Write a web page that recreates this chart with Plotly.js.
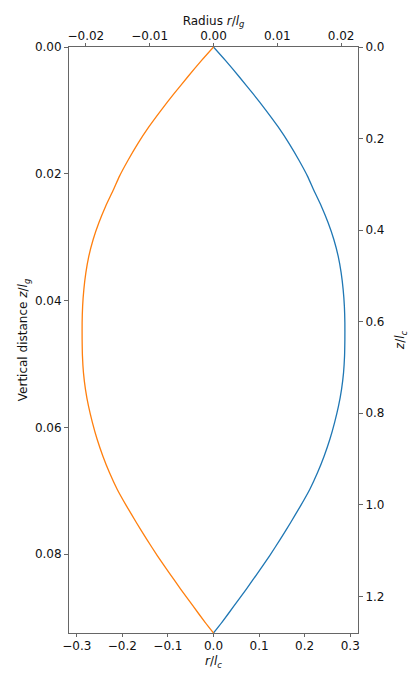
<!DOCTYPE html>
<html>
<head>
<meta charset="utf-8">
<script src="https://cdn.plot.ly/plotly-3.0.1.min.js"></script>
<style>
html,body{margin:0;padding:0;background:#fff;}
#chart{width:416px;height:680px;}
</style>
</head>
<body>
<div id="chart"></div>
<script>
// Vertical distance z/l_g (left axis units)
const zValues = [0, 0.00211, 0.00473, 0.00736, 0.00999, 0.01261, 0.01524, 0.01787, 0.02049, 0.02249,
                 0.02512, 0.02773, 0.03037, 0.03300, 0.03561, 0.03824, 0.04088, 0.04349, 0.04612,
                 0.04876, 0.05137, 0.05400, 0.05663, 0.05925, 0.06188, 0.06451, 0.06713, 0.06976,
                 0.07239, 0.07501, 0.07764, 0.08027, 0.08289, 0.08552, 0.08815, 0.09077, 0.09245];
// Radius r/l_c (bottom axis units), right branch (blue)
const rRight = [0, 0.0261, 0.0568, 0.0866, 0.1151, 0.1419, 0.1660, 0.1875, 0.2070, 0.2193,
                0.2366, 0.2515, 0.2640, 0.2735, 0.2800, 0.2844, 0.2871, 0.2882, 0.2882,
                0.2875, 0.2853, 0.2809, 0.2743, 0.2656, 0.2553, 0.2428, 0.2283, 0.2114,
                0.1910, 0.1693, 0.1467, 0.1230, 0.0980, 0.0721, 0.0454, 0.0184, 0];
// Radius r/l_c, left branch (orange)
const rLeft = [0, -0.0261, -0.0568, -0.0866, -0.1151, -0.1419, -0.1660, -0.1875, -0.2070, -0.2193,
               -0.2366, -0.2515, -0.2640, -0.2735, -0.2800, -0.2844, -0.2871, -0.2882, -0.2882,
               -0.2875, -0.2853, -0.2809, -0.2743, -0.2656, -0.2553, -0.2428, -0.2283, -0.2114,
               -0.1910, -0.1693, -0.1467, -0.1230, -0.0980, -0.0721, -0.0454, -0.0184, 0];

const bottomTicks = [-0.3, -0.2, -0.1, 0.0, 0.1, 0.2, 0.3];
const topTicks = [-0.02, -0.01, 0.00, 0.01, 0.02];
const leftTicks = [0.00, 0.02, 0.04, 0.06, 0.08];
const rightTicks = [0.0, 0.2, 0.4, 0.6, 0.8, 1.0, 1.2];

const font = {family: 'DejaVu Sans, sans-serif', size: 12, color: '#111'};
const axisCommon = {
  showline: true, linecolor: '#666', linewidth: 1,
  ticks: 'outside', ticklen: 4, tickwidth: 1, tickcolor: '#666',
  showgrid: false, zeroline: false, tickfont: font
};

const traces = [
  {x: rRight, y: zValues, xaxis: 'x', yaxis: 'y', mode: 'lines', line: {color: '#1f77b4', width: 1.3, shape: 'spline', smoothing: 0.5}, hoverinfo: 'skip'},
  {x: rLeft, y: zValues, xaxis: 'x', yaxis: 'y', mode: 'lines', line: {color: '#ff7f0e', width: 1.3, shape: 'spline', smoothing: 0.5}, hoverinfo: 'skip'},
  {x: [topTicks[2]], y: [rightTicks[0]], xaxis: 'x2', yaxis: 'y2', mode: 'markers', marker: {opacity: 0}, hoverinfo: 'skip'}
];

const layout = {
  width: 416, height: 680,
  margin: {l: 69, r: 58, t: 47, b: 47},
  paper_bgcolor: '#fff', plot_bgcolor: '#fff',
  showlegend: false, font: font,
  xaxis: Object.assign({}, axisCommon, {
    range: [-0.317, 0.317], tickvals: bottomTicks, tickformat: '.1f', ticklen: 3, ticklabelstandoff: -1,
    title: {text: '<i>r</i>/<i>l</i><sub><i>c</i></sub>', font: font, standoff: 4}
  }),
  xaxis2: Object.assign({}, axisCommon, {
    overlaying: 'x', side: 'top', anchor: 'y', ticklen: 3, ticklabelstandoff: -2,
    range: [-0.02264, 0.02264], tickvals: topTicks, tickformat: '.2f',
    title: {text: 'Radius <i>r</i>/<i>l</i><sub><i>g</i></sub>', font: font, standoff: 0}
  }),
  yaxis: Object.assign({}, axisCommon, {
    range: [0.09245, 0], tickvals: leftTicks, tickformat: '.2f',
    title: {text: 'Vertical distance <i>z</i>/<i>l</i><sub><i>g</i></sub>', font: font, standoff: 4}
  }),
  yaxis2: Object.assign({}, axisCommon, {
    overlaying: 'y', side: 'right', anchor: 'x',
    range: [1.280, 0], tickvals: rightTicks, tickformat: '.1f',
    title: {text: '<i>z</i>/<i>l</i><sub><i>c</i></sub>', font: font, standoff: 12}
  })
};

Plotly.newPlot('chart', traces, layout, {staticPlot: true, displayModeBar: false});
</script>
</body>
</html>
